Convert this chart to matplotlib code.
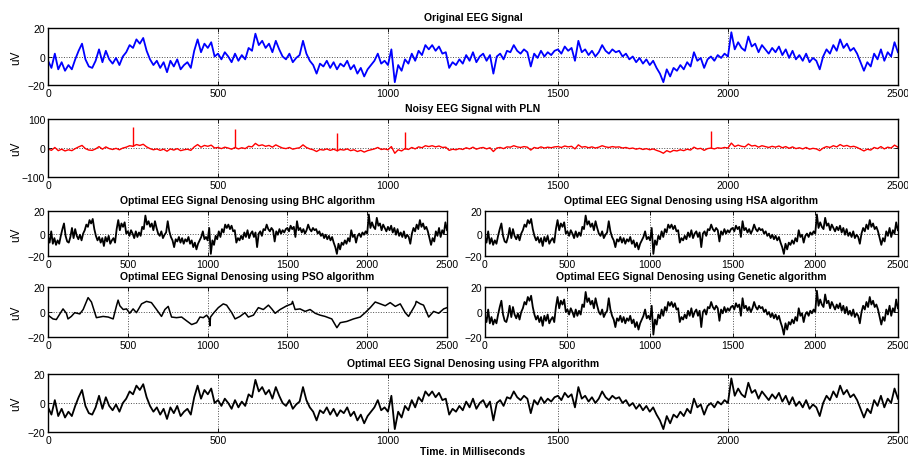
import numpy as np
import matplotlib
matplotlib.use("Agg")
import matplotlib.pyplot as plt

plt.rcParams['font.family'] = ['Liberation Sans', 'DejaVu Sans']

# EEG samples every 10 ms, 0..2500 ms (uV)
eeg_uv = [
    -3, -8, 2, -9, -4, -10, -6, -9, -2, 4,
    9, -2, -7, -8, -3, 5, -4, 4, -2, -5,
    -1, -6, 0, 3, 8, 6, 12, 9, 13, 4,
    -2, -6, -3, -8, -4, -11, -3, -7, -2, -9,
    -6, -4, -8, 4, 12, 3, 9, 6, 10, 0,
    2, -2, 3, 0, -4, 2, -3, 1, -2, 6,
    4, 16, 8, 11, 6, 9, 3, 11, 5, 0,
    -2, 2, -4, -1, 1, 11, 2, -3, -6, -12,
    -5, -7, -3, -8, -4, -9, -5, -7, -3, -9,
    -6, -12, -8, -14, -9, -6, -3, 2, -5, -3,
    -6, 5, -18, -6, -10, -2, -5, 2, -3, 4,
    1, 8, 5, 8, 4, 7, 2, 3, -8, -4,
    -6, -2, -5, 1, -3, 3, -4, 0, 2, -3,
    1, -12, 0, 2, -2, 4, 3, 8, 4, 2,
    5, 3, -7, 2, -1, 4, 0, 3, 1, 4,
    5, 2, 7, 4, 6, -3, 11, 3, 5, 1,
    4, 0, 3, 8, 4, 2, 5, 3, 4, 0,
    2, -2, 0, -4, -1, -5, -2, -6, -3, -8,
    -12, -18, -9, -14, -8, -10, -6, -9, -4, -7,
    3, -3, -1, -8, -2, 0, -3, 1, -1, 2,
    0, 17, 5, 10, 6, 4, 14, 7, 9, 3,
    8, 5, 2, 6, 3, 7, 1, 5, -1, 4,
    -2, 1, -3, 2, -4, -1, -3, -9, 0, 5,
    2, 8, 4, 12, 6, 9, 4, 6, 2, -4,
    -10, -4, -7, 2, -2, 5, -3, 3, 0, 10,
    3,
]
eeg_t = np.arange(len(eeg_uv)) * 10

# power line noise bursts: time (ms), amplitude (uV)
pln_t = [250, 550, 850, 1050, 1950]
pln_amp = [68, 63, 60, 58, 58]

# PSO output is much smoother
pso_t = [0, 31, 52, 84, 94, 115, 125, 146, 167, 199, 220, 251, 272, 303, 345,
         377, 408, 429, 439, 450, 471, 492, 512, 533, 554, 586, 617, 648, 680,
         711, 732, 753, 774, 805, 837, 868, 900, 931, 952, 973, 994, 1010, 1014,
         1018, 1036, 1067, 1098, 1119, 1151, 1172, 1203, 1234, 1255, 1287, 1318,
         1349, 1381, 1402, 1423, 1454, 1496, 1527, 1532, 1548, 1579, 1611, 1642,
         1674, 1705, 1736, 1778, 1810, 1831, 1872, 1914, 1956, 1987, 2019, 2050,
         2082, 2113, 2144, 2176, 2207, 2238, 2259, 2291, 2302, 2307, 2333, 2353,
         2385, 2416, 2448, 2479, 2500]
pso_uv = [-2.5, -5.5, -6, 0.5, 2.5, -1, -5.5, -3.5, -0.5, -1.5, 2, 11.5, 8,
          -4.5, -3.5, -4, -5.5, 5, 9.5, 5, 2, 2.5, -1, 2.5, -0.5, 6.5, 8.5,
          7.5, 2, -3.5, 2, 4.5, -4, -4.5, -4, -7, -10, -8.5, -4, -4.5, -2.5,
          -5.5, -11, -4, -1, 3.5, 6.5, 5.5, -0.5, -5.5, -3.5, -0.5, -4, -2.5,
          3.5, 2, 5.5, 2.5, -1, 2, 5, 6.5, 8.5, 2, 2.5, 0.5, 2, -1, -2.5,
          -3.5, -5.5, -12.5, -8.5, -7.5, -5.5, -4, -0.5, 3.5, 8, 6.5, 5, 7.5,
          4.5, 6.5, -0.5, -3.5, 3.5, 6, 8.5, 6.5, 5.5, -4, 0.5, -1, 2.5, 3.5]

xticks = [0, 500, 1000, 1500, 2000, 2500]

FIG_W, FIG_H = 908, 460


def style(ax, ylim, yticks, title, ylabel=True):
    ax.set_xlim(0, 2500)
    ax.set_ylim(*ylim)
    ax.set_xticks(xticks)
    ax.set_yticks(yticks)
    ax.tick_params(direction='in', top=True, right=True, labelsize=7.5,
                   length=3, width=0.6, pad=2)
    for s in ax.spines.values():
        s.set_linewidth(1.0)
    ax.grid(True, linestyle=':', color='0.3', linewidth=0.7)
    if ylabel:
        ax.set_ylabel('uV', fontsize=8.5)
        # keep all the uV labels on one vertical line
        left, _, width, _ = ax.get_position().bounds
        ax.yaxis.set_label_coords((22 / FIG_W - left) / width, 0.5)
    ax.set_title(title, fontsize=7.5, fontweight='bold', pad=6)


fig = plt.figure(figsize=(FIG_W / 100, FIG_H / 100), dpi=100)

ax1 = fig.add_axes([0.0529, 0.813, 0.936, 0.124])
ax1.plot(eeg_t, eeg_uv, color='#0000ff', lw=1.3)
style(ax1, (-20, 20), [-20, 0, 20], 'Original EEG Signal')

ax2 = fig.add_axes([0.0529, 0.613, 0.936, 0.126])
ax2.plot(eeg_t, eeg_uv, color='#ff0000', lw=1.0)
base = [eeg_uv[t // 10] for t in pln_t]
ax2.vlines(pln_t, base, np.add(base, pln_amp), color='#ff0000', lw=1.0)
style(ax2, (-100, 100), [-100, 0, 100], 'Noisy EEG Signal with PLN')

ax3 = fig.add_axes([0.0529, 0.441, 0.4394, 0.098])
ax3.plot(eeg_t, eeg_uv, color='k', lw=1.3)
style(ax3, (-20, 20), [-20, 0, 20],
      'Optimal EEG Signal Denosing using BHC algorithm')

ax4 = fig.add_axes([0.534, 0.441, 0.4548, 0.098])
ax4.plot(eeg_t, eeg_uv, color='k', lw=1.3)
style(ax4, (-20, 20), [-20, 0, 20],
      'Optimal EEG Signal Denosing using HSA algorithm', ylabel=False)

ax5 = fig.add_axes([0.0529, 0.265, 0.4394, 0.109])
ax5.plot(pso_t, pso_uv, color='k', lw=1.1)
style(ax5, (-20, 20), [-20, 0, 20],
      'Optimal EEG Signal Denosing using PSO algorithm')

ax6 = fig.add_axes([0.534, 0.265, 0.4548, 0.109])
ax6.plot(eeg_t, eeg_uv, color='k', lw=1.3)
style(ax6, (-20, 20), [-20, 0, 20],
      'Optimal EEG Signal Denosing using Genetic algorithm', ylabel=False)

ax7 = fig.add_axes([0.0529, 0.0587, 0.936, 0.126])
ax7.plot(eeg_t, eeg_uv, color='k', lw=1.3)
style(ax7, (-20, 20), [-20, 0, 20],
      'Optimal EEG Signal Denosing using FPA algorithm')
ax7.set_xlabel('Time. in Milliseconds', fontsize=7.5, fontweight='bold',
               labelpad=1)

fig.savefig('out.png', dpi=100)
